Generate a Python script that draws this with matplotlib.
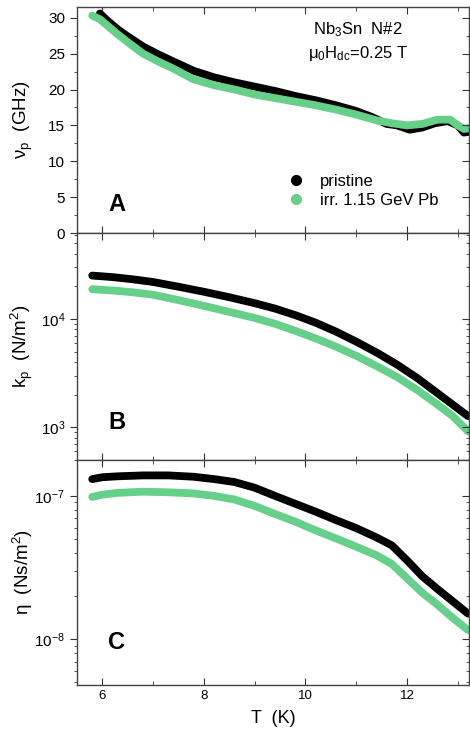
import matplotlib.pyplot as plt
import matplotlib.ticker as mticker
from matplotlib.lines import Line2D

plt.rcParams['font.family'] = ['Liberation Sans', 'DejaVu Sans']
plt.rcParams['mathtext.fontset'] = 'custom'
plt.rcParams['mathtext.rm'] = 'Liberation Sans'
plt.rcParams['mathtext.it'] = 'Liberation Sans'
plt.rcParams['mathtext.default'] = 'regular'

GREEN = '#66d08a'

# pinning frequency nu_p (GHz)
T_nu_pr = [5.95, 6.1, 6.3, 6.5, 6.8, 7.1, 7.4, 7.8, 8.2, 8.6, 9.0, 9.4, 9.8, 10.2, 10.6,
           11.0, 11.3, 11.6, 11.8, 12.05, 12.3, 12.55, 12.8, 13.0, 13.12, 13.22]
nu_pr = [30.6, 29.6, 28.4, 27.4, 26.0, 24.9, 23.9, 22.6, 21.7, 21.0, 20.4, 19.8, 19.1, 18.5, 17.8,
         17.0, 16.2, 15.2, 15.0, 14.4, 14.7, 15.3, 15.6, 15.0, 14.0, 14.1]
T_nu_irr = [5.8, 5.95, 6.1, 6.3, 6.5, 6.8, 7.1, 7.4, 7.8, 8.2, 8.6, 9.0, 9.4, 9.8, 10.2, 10.6,
            11.0, 11.4, 11.7, 12.0, 12.3, 12.6, 12.85, 13.0, 13.12, 13.22]
nu_irr = [30.3, 29.8, 28.9, 27.7, 26.6, 25.0, 23.9, 22.9, 21.4, 20.6, 20.0, 19.3, 18.8, 18.3,
          17.8, 17.2, 16.5, 15.7, 15.3, 15.0, 15.2, 15.8, 15.8, 15.0, 14.5, 14.6]

# Labusch parameter k_p (N/m^2)
T_k = [5.8, 6.2, 6.6, 7.0, 7.5, 8.0, 8.5, 9.0, 9.4, 9.8, 10.2, 10.6, 11.0, 11.4, 11.8,
       12.2, 12.6, 12.9, 13.2]
k_pr = [25100, 24300, 23200, 21900, 19800, 17800, 15850, 13960, 12450, 10840, 9230, 7640,
        6170, 4900, 3800, 2850, 2065, 1620, 1270]
k_irr = [18800, 18300, 17600, 16700, 14900, 13200, 11600, 10200, 9020, 7760, 6610, 5550,
         4570, 3670, 2920, 2210, 1620, 1270, 920]

# viscosity eta (Ns/m^2)
T_eta = [5.8, 6.0, 6.3, 6.8, 7.3, 7.8, 8.2, 8.6, 9.0, 9.4, 9.8, 10.2, 10.6, 11.0, 11.4,
         11.7, 12.0, 12.3, 12.6, 12.9, 13.2]
eta_pr = [1.31e-7, 1.35e-7, 1.37e-7, 1.39e-7, 1.39e-7, 1.36e-7, 1.31e-7, 1.25e-7, 1.14e-7,
          1.00e-7, 8.81e-8, 7.76e-8, 6.78e-8, 5.96e-8, 5.13e-8, 4.52e-8, 3.55e-8, 2.75e-8,
          2.24e-8, 1.84e-8, 1.51e-8]
eta_irr = [9.84e-8, 1.02e-7, 1.05e-7, 1.07e-7, 1.06e-7, 1.04e-7, 1.00e-7, 9.44e-8, 8.51e-8,
           7.48e-8, 6.61e-8, 5.75e-8, 5.05e-8, 4.42e-8, 3.85e-8, 3.35e-8, 2.66e-8, 2.11e-8,
           1.74e-8, 1.41e-8, 1.16e-8]

W, H = 470, 734
fig = plt.figure(figsize=(W / 100, H / 100), dpi=100)
left = 77 / W
width = 469 / W - left


def make_ax(top_px, bot_px):
    return fig.add_axes([left, 1 - bot_px / H, width, (bot_px - top_px) / H])


axA = make_ax(7, 233)
axB = make_ax(233, 460)
axC = make_ax(460, 685)

axA.set_ylim(0, 31.5)
axA.yaxis.set_major_locator(mticker.MultipleLocator(5))
axA.yaxis.set_minor_locator(mticker.MultipleLocator(2.5))
axB.set_yscale('log')
axB.set_ylim(500, 62000)
axC.set_yscale('log')
axC.set_ylim(4.8e-9, 1.78e-7)
for ax in [axB, axC]:
    ax.yaxis.set_minor_locator(mticker.LogLocator(base=10, subs=range(2, 10), numticks=20))
    ax.yaxis.set_minor_formatter(mticker.NullFormatter())

lw = 5.6
for ax, (t1, y1, t2, y2) in zip(
        [axA, axB, axC],
        [(T_nu_pr, nu_pr, T_nu_irr, nu_irr),
         (T_k, k_pr, T_k, k_irr),
         (T_eta, eta_pr, T_eta, eta_irr)]):
    ax.plot(t1, y1, color='black', lw=lw, solid_capstyle='round', solid_joinstyle='round')
    ax.plot(t2, y2, color=GREEN, lw=lw, solid_capstyle='round', solid_joinstyle='round')
    ax.set_xlim(5.5, 13.22)
    ax.xaxis.set_major_locator(mticker.MultipleLocator(2))
    ax.xaxis.set_minor_locator(mticker.MultipleLocator(1))
    ax.tick_params(axis='x', which='both', direction='in', top=True, labelsize=9.5,
                   color='#333333')
    ax.tick_params(axis='x', which='major', length=5)
    ax.tick_params(axis='x', which='minor', length=3)
    ax.tick_params(axis='y', which='both', direction='out', labelsize=11, color='#333333')
    ax.tick_params(axis='y', which='major', length=5)
    ax.tick_params(axis='y', which='minor', length=2.5)
    for s in ax.spines.values():
        s.set_color('#444444')
        s.set_linewidth(1.0)
    if ax is not axC:
        ax.tick_params(axis='x', labelbottom=False)

    # inward ticks on the right-hand side
    axr = ax.twinx()
    axr.set_yscale(ax.get_yscale())
    axr.set_ylim(ax.get_ylim())
    axr.yaxis.set_major_locator(ax.yaxis.get_major_locator())
    axr.yaxis.set_minor_locator(ax.yaxis.get_minor_locator())
    axr.tick_params(axis='y', which='both', direction='in', labelright=False,
                    color='#333333')
    axr.tick_params(axis='y', which='major', length=5)
    axr.tick_params(axis='y', which='minor', length=2.5)
    for s in axr.spines.values():
        s.set_visible(False)

axA.set_ylabel(r'ν$_{p}$  (GHz)', fontsize=13.5)
axB.set_ylabel(r'k$_{p}$  (N/m$^{2}$)', fontsize=13.5)
axC.set_ylabel(r'η  (Ns/m$^{2}$)', fontsize=13.5)
for ax in [axA, axB, axC]:
    ax.yaxis.set_label_coords(-0.108, 0.5)
axC.set_xlabel('T  (K)', fontsize=13, labelpad=6)

for ax, letter, yy in [(axA, 'A', 0.124), (axB, 'B', 0.167), (axC, 'C', 0.187)]:
    ax.text(0.102, yy, letter, transform=ax.transAxes, fontsize=17, fontweight='bold',
            ha='center', va='center')

axA.text(0.717, 0.898, r'Nb$_3$Sn  N#2', transform=axA.transAxes, fontsize=12,
         ha='center', va='center')
axA.text(0.717, 0.796, r'μ$_0$H$_{dc}$=0.25 T', transform=axA.transAxes, fontsize=12,
         ha='center', va='center')

handles = [Line2D([], [], ls='none', marker='o', ms=7, color='black'),
           Line2D([], [], ls='none', marker='o', ms=7, color=GREEN)]
axA.legend(handles, ['pristine', 'irr. 1.15 GeV Pb'], loc='lower left',
           bbox_to_anchor=(0.5, 0.045), frameon=False, fontsize=12,
           handlelength=1.0, handletextpad=0.9, labelspacing=0.25)

fig.savefig('out.png', dpi=100)
